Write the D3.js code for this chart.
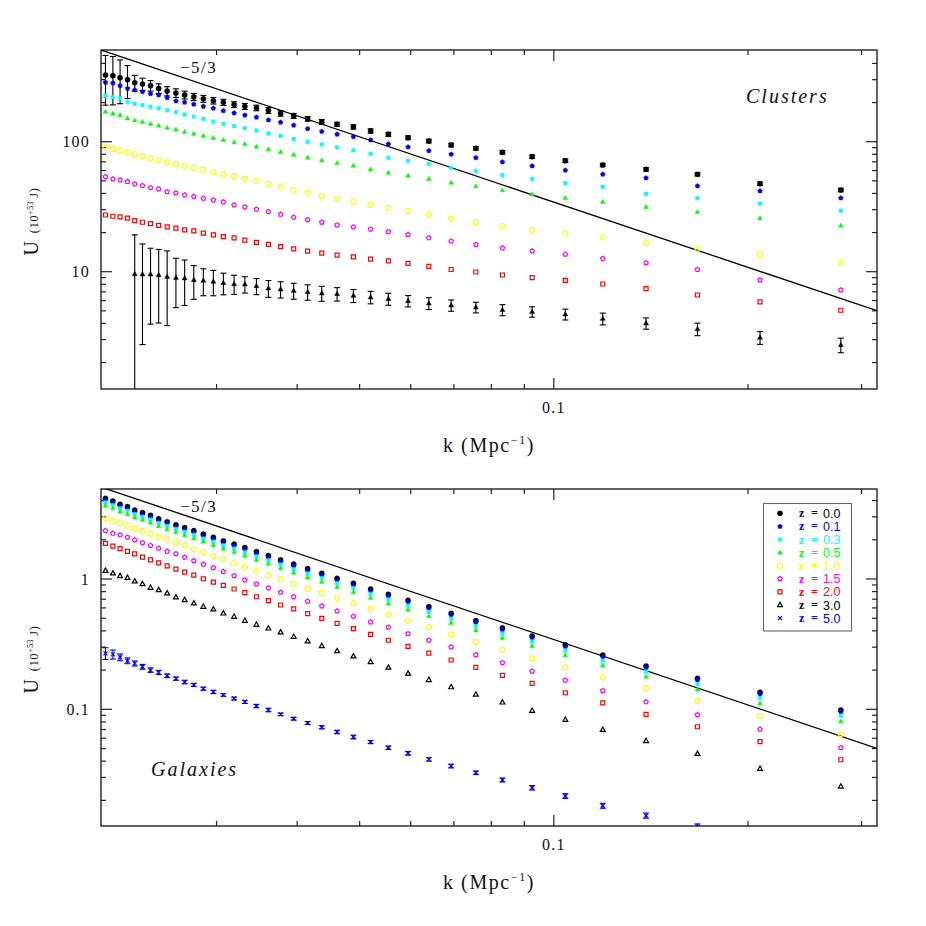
<!DOCTYPE html>
<html>
<head>
<meta charset="utf-8">
<script src="https://cdn.jsdelivr.net/npm/d3@7"></script>
<style>
    body { margin: 0; background: #fff; }
    svg { display: block; }
    text { font-family: "Liberation Serif", "Times New Roman", serif; fill: #111; }
</style>
</head>
<body>
<div id="viz-container"></div>
<script>
// wavenumbers of the 39 modes (Mpc^-1)
let kValues = [0.02018, 0.02072, 0.02126, 0.02183, 0.02240, 0.02303, 0.02370, 0.02440, 0.02515, 0.02595,
    0.02677, 0.02766, 0.02862, 0.02966, 0.03074, 0.03194, 0.03319, 0.03459, 0.03610, 0.03771,
    0.03951, 0.04153, 0.04368, 0.04613, 0.04890, 0.05200, 0.05540, 0.05943, 0.06401, 0.06932,
    0.07571, 0.08324, 0.09256, 0.1042, 0.1191, 0.1390, 0.1670, 0.2088, 0.2786];

let redshifts = ['0.0', '0.1', '0.3', '0.5', '1.0', '1.5', '2.0', '3.0', '5.0'];

// clusters panel, U in 10^53 J
let clustersZ00 = [326, 322, 311, 300, 284, 278, 270, 257, 245, 237, 229, 221, 214, 207, 201, 193, 187, 182, 174, 165, 158, 150, 142, 136, 130, 121, 114, 107.4, 101.2, 94.3, 88.9, 82.9, 76.7, 71.4, 66.2, 61.3, 56.1, 47.5, 42.5];
let clustersErrZ00 = [135, 130, 115, 85, 40, 30, 25, 22, 20, 18, 16, 14, 13, 12, 11, 10, 10, 9, 9, 8, 7, 6, 6, 5, 5, 4.5, 4, 3.6, 3.3, 3, 2.8, 2.6, 2.4, 2.2, 2, 1.8, 1.6, 1.4, 1.3];
let clustersZ01 = [286, 283, 270, 257, 250, 242, 234, 229, 218, 206, 201, 194, 187, 181, 173, 166, 160, 154, 147, 141, 134, 126, 120, 114, 109, 103, 96.0, 91.0, 85.3, 80.0, 75.3, 69.8, 65.0, 60.3, 56.1, 52.6, 45.6, 41.8, 36.9];
let clustersZ03 = [226, 220, 215, 202, 196, 191, 186, 181, 175, 169, 162, 156, 150, 143, 137, 132, 127, 122, 116, 111, 105, 99.5, 95.5, 90.6, 85.9, 80.8, 75.3, 71.4, 67.4, 63.1, 59.5, 55.4, 51.7, 48.1, 45.1, 39.8, 36.9, 33.4, 29.5];
let clustersZ05 = [170, 165, 160, 151, 146, 142, 137, 133, 128, 124, 119, 115, 111, 107, 103, 99, 96, 91.5, 87.4, 83.3, 79.4, 75.3, 71.9, 68.6, 65.4, 61.3, 57.7, 54.8, 51.7, 48.4, 45.4, 42.3, 39.4, 36.9, 34.4, 31.5, 28.8, 25.8, 22.6];
let clustersZ10 = [91.5, 87.9, 85.3, 82.9, 80.0, 77.6, 74.5, 72.3, 69.4, 67.4, 65.4, 63.1, 60.9, 58.5, 56.4, 54.2, 51.9, 49.9, 47.5, 45.1, 42.7, 40.5, 38.4, 36.2, 34.6, 32.6, 31.1, 29.3, 27.4, 25.6, 24.1, 22.5, 21.0, 19.7, 18.4, 16.6, 15.0, 13.6, 11.7];
let clustersZ15 = [53.8, 51.7, 50.7, 49.3, 47.3, 45.9, 44.3, 43.3, 41.2, 40.3, 38.9, 37.8, 36.7, 35.6, 34.4, 32.6, 31.5, 30.2, 28.9, 27.6, 26.2, 25.1, 24.0, 22.9, 22.1, 21.2, 20.3, 19.3, 18.2, 17.2, 16.2, 15.2, 14.4, 13.6, 12.6, 11.7, 10.4, 8.63, 7.23];
let clustersZ20 = [27.3, 26.7, 26.4, 25.8, 24.7, 24.0, 23.4, 22.7, 22.1, 21.6, 21.0, 20.6, 19.8, 19.2, 18.6, 18.2, 17.5, 16.8, 16.2, 15.6, 15.0, 14.4, 13.9, 13.4, 13.0, 12.5, 12.1, 11.6, 11.0, 10.4, 9.95, 9.43, 8.99, 8.58, 8.04, 7.40, 6.62, 5.85, 5.05];
let clustersZ30 = [null, null, null, null, 9.60, 9.55, 9.55, 9.43, 9.15, 8.99, 8.90, 8.63, 8.53, 8.38, 8.19, 8.04, 8.00, 7.76, 7.45, 7.32, 7.14, 6.98, 6.82, 6.74, 6.54, 6.36, 6.17, 5.95, 5.71, 5.51, 5.32, 5.08, 4.92, 4.70, 4.35, 4.01, 3.62, 3.11, 2.73];
let clustersErrZ30 = [null, null, null, null, 9.6, 6.8, 5.6, 5.4, 5.3, 3.7, 3.4, 2.5, 2.0, 1.85, 1.55, 1.35, 1.15, 1.1, 1.1, 1.05, 1.0, 0.95, 0.9, 0.8, 0.75, 0.7, 0.65, 0.6, 0.6, 0.55, 0.5, 0.5, 0.45, 0.45, 0.45, 0.4, 0.4, 0.35, 0.35];

// galaxies panel
let galaxiesZ00 = [4.16, 3.97, 3.74, 3.59, 3.38, 3.23, 3.08, 2.90, 2.75, 2.61, 2.48, 2.35, 2.21, 2.09, 1.96, 1.85, 1.74, 1.62, 1.51, 1.40, 1.30, 1.20, 1.106, 1.012, 0.927, 0.838, 0.763, 0.686, 0.613, 0.545, 0.479, 0.421, 0.365, 0.312, 0.261, 0.215, 0.173, 0.135, 0.0988];
let galaxiesZ01 = [4.04, 3.85, 3.63, 3.48, 3.28, 3.13, 2.99, 2.81, 2.67, 2.53, 2.41, 2.28, 2.14, 2.03, 1.90, 1.79, 1.69, 1.57, 1.46, 1.36, 1.26, 1.16, 1.07, 0.982, 0.899, 0.813, 0.740, 0.665, 0.595, 0.529, 0.465, 0.408, 0.354, 0.303, 0.253, 0.209, 0.168, 0.131, 0.0958];
let galaxiesZ03 = [3.87, 3.69, 3.48, 3.34, 3.14, 3.00, 2.86, 2.69, 2.55, 2.42, 2.30, 2.18, 2.04, 1.93, 1.81, 1.71, 1.60, 1.49, 1.39, 1.29, 1.19, 1.10, 1.015, 0.928, 0.849, 0.767, 0.697, 0.626, 0.559, 0.496, 0.435, 0.382, 0.331, 0.282, 0.236, 0.194, 0.156, 0.122, 0.0889];
let galaxiesZ05 = [3.66, 3.49, 3.29, 3.15, 2.97, 2.84, 2.70, 2.54, 2.41, 2.29, 2.17, 2.05, 1.93, 1.82, 1.71, 1.61, 1.51, 1.40, 1.31, 1.21, 1.12, 1.03, 0.951, 0.868, 0.793, 0.716, 0.649, 0.582, 0.519, 0.460, 0.403, 0.353, 0.305, 0.260, 0.217, 0.178, 0.142, 0.111, 0.081];
let galaxiesZ10 = [2.92, 2.79, 2.68, 2.56, 2.45, 2.35, 2.23, 2.11, 2.02, 1.90, 1.81, 1.69, 1.61, 1.50, 1.42, 1.32, 1.23, 1.15, 1.07, 0.995, 0.920, 0.848, 0.781, 0.715, 0.651, 0.592, 0.532, 0.479, 0.426, 0.376, 0.330, 0.287, 0.246, 0.210, 0.176, 0.145, 0.116, 0.0893, 0.0646];
let galaxiesZ15 = [2.35, 2.24, 2.18, 2.09, 1.99, 1.90, 1.81, 1.72, 1.63, 1.56, 1.47, 1.38, 1.30, 1.22, 1.14, 1.06, 0.982, 0.915, 0.853, 0.790, 0.731, 0.674, 0.621, 0.568, 0.517, 0.468, 0.426, 0.380, 0.339, 0.301, 0.262, 0.228, 0.196, 0.167, 0.139, 0.114, 0.0909, 0.0702, 0.0507];
let galaxiesZ20 = [1.88, 1.79, 1.71, 1.63, 1.56, 1.47, 1.40, 1.33, 1.26, 1.19, 1.13, 1.07, 1.005, 0.948, 0.895, 0.838, 0.785, 0.731, 0.682, 0.632, 0.589, 0.542, 0.499, 0.457, 0.416, 0.376, 0.339, 0.304, 0.270, 0.239, 0.210, 0.182, 0.158, 0.134, 0.112, 0.0915, 0.0735, 0.0564, 0.0410];
let galaxiesZ30 = [1.158, 1.106, 1.054, 1.023, 0.960, 0.915, 0.858, 0.823, 0.777, 0.724, 0.690, 0.651, 0.613, 0.585, 0.545, 0.514, 0.479, 0.446, 0.418, 0.390, 0.361, 0.333, 0.306, 0.280, 0.255, 0.231, 0.209, 0.188, 0.168, 0.148, 0.130, 0.113, 0.0976, 0.0832, 0.0697, 0.0571, 0.0456, 0.0350, 0.0256];
let galaxiesZ50 = [0.269, 0.264, 0.251, 0.236, 0.225, 0.212, 0.200, 0.192, 0.181, 0.172, 0.162, 0.154, 0.144, 0.136, 0.129, 0.121, 0.114, 0.106, 0.0988, 0.0915, 0.0847, 0.0785, 0.0728, 0.0670, 0.0613, 0.0561, 0.0507, 0.0460, 0.0413, 0.0367, 0.0326, 0.0287, 0.0250, 0.0216, 0.0182, 0.0153, 0.0126, null, null];
let galaxiesErrZ50 = [0.028, 0.021, 0.015, 0.012, 0.010, 0.009, 0.008, 0.007, 0.006, 0.005, 0.005, 0.004, 0.004, 0.004, 0.003, 0.003, 0.003, 0.003, 0.003, 0.002, 0.002, 0.002, 0.002, 0.002, 0.002, 0.0015, 0.0015, 0.0015, 0.0013, 0.0012, 0.001, 0.001, 0.001, 0.0009, 0.0008, 0.0007, 0.0006, null, null];

// amplitude of the k^-5/3 guide line in each panel
let slopeAmp = [0.739, 0.00739];

let colors = ['#000000', '#0000ff', '#00ffff', '#00ff00', '#ffff00', '#ff00ff', '#ff0000', '#000000', '#0000ff'];
let symbols = ['circle', 'pentagon', 'square', 'triangle', 'ocircle', 'opentagon', 'osquare', 'otriangle', 'cross'];

let viz = d3.select('#viz-container')
    .append('svg')
    .attr('id', 'viz')
    .attr('width', 926)
    .attr('height', 926);

let xLeft = 101, xRight = 877;
let x = d3.scaleLog().domain([0.01986, 0.3170]).range([xLeft, xRight]);

function markerPath(type) {
    switch (type) {
        case 'circle': return circlePath(2.6);
        case 'ocircle': return circlePath(2.6);
        case 'pentagon': return pentaPath(2.5);
        case 'opentagon': return pentaPath(2.3);
        case 'square': return squarePath(1.8);
        case 'osquare': return squarePath(2.0);
        case 'triangle': return triPath(2.6);
        case 'otriangle': return triPath(2.7);
        case 'ftriangle': return triPath(2.8);
        case 'cross': return 'M-2,-2L2,2M-2,2L2,-2';
    }
}
function circlePath(r) {
    return `M${r},0A${r},${r} 0 1,1 ${-r},0A${r},${r} 0 1,1 ${r},0Z`;
}
function squarePath(h) {
    return `M${-h},${-h}H${h}V${h}H${-h}Z`;
}
function triPath(r) {
    return `M0,${-r}L${r * 0.9},${r * 0.6}L${-r * 0.9},${r * 0.6}Z`;
}
function pentaPath(r) {
    let pts = d3.range(5).map(i => {
        let a = -Math.PI / 2 + i * 2 * Math.PI / 5;
        return [r * Math.cos(a), r * Math.sin(a)];
    });
    return 'M' + pts.map(p => p[0].toFixed(2) + ',' + p[1].toFixed(2)).join('L') + 'Z';
}
function isOpen(type) {
    return type[0] == 'o' || type == 'cross';
}

function drawPanel(p) {
    let y = d3.scaleLog().domain(p.yDomain).range([p.bottom, p.top]);
    let g = viz.append('g');
    let clipId = 'clip' + p.id;

    g.append('clipPath').attr('id', clipId)
        .append('rect')
        .attr('x', xLeft).attr('y', p.top)
        .attr('width', xRight - xLeft).attr('height', p.bottom - p.top);

    // ticks: major at decades, minor in between, on all four sides
    let xt = x.ticks().filter(d => x(d) > xLeft + 3 && x(d) < xRight - 3);
    let yt = y.ticks().filter(d => y(d) > p.top + 2 && y(d) < p.bottom - 2);
    let isMajor = d => Math.abs(Math.log10(d) - Math.round(Math.log10(d))) < 1e-6;
    let fmt = d => isMajor(d) ? d3.format('~g')(d) : '';
    let tickLen = d => isMajor(d) ? 11 : 5;

    g.selectAll('.xtick').data(xt).enter().append('line')
        .attr('x1', d => x(d)).attr('x2', d => x(d))
        .attr('y1', p.bottom).attr('y2', d => p.bottom - tickLen(d));
    g.selectAll('.xtickTop').data(xt).enter().append('line')
        .attr('x1', d => x(d)).attr('x2', d => x(d))
        .attr('y1', p.top).attr('y2', d => p.top + tickLen(d));
    g.selectAll('.ytick').data(yt).enter().append('line')
        .attr('x1', xLeft).attr('x2', d => xLeft + tickLen(d))
        .attr('y1', d => y(d)).attr('y2', d => y(d));
    g.selectAll('.ytickRight').data(yt).enter().append('line')
        .attr('x1', xRight).attr('x2', d => xRight - tickLen(d))
        .attr('y1', d => y(d)).attr('y2', d => y(d));
    g.selectAll('line').attr('stroke', '#222').attr('stroke-width', 1.2);

    g.append('rect')
        .attr('x', xLeft).attr('y', p.top)
        .attr('width', xRight - xLeft).attr('height', p.bottom - p.top)
        .attr('fill', 'none').attr('stroke', '#222').attr('stroke-width', 1.4);

    g.selectAll('.xlab').data(xt.filter(isMajor)).enter().append('text')
        .attr('x', d => x(d)).attr('y', p.bottom + 23.5)
        .attr('text-anchor', 'middle')
        .attr('font-size', 16).attr('letter-spacing', 1.2)
        .text(fmt);
    g.selectAll('.ylab').data(yt.filter(isMajor)).enter().append('text')
        .attr('x', xLeft - 11).attr('y', d => y(d) + 5.5)
        .attr('text-anchor', 'end')
        .attr('font-size', 16).attr('letter-spacing', 1.2)
        .text(fmt);

    // axis titles
    let xt1 = g.append('text')
        .attr('x', (xLeft + xRight) / 2).attr('y', p.bottom + 62.5)
        .attr('text-anchor', 'middle')
        .attr('font-size', 20).attr('letter-spacing', 1.6);
    xt1.append('tspan').text('k (Mpc');
    xt1.append('tspan').attr('font-size', 12).attr('dy', -8).text('\u22121');
    xt1.append('tspan').attr('dy', 8).text(')');

    let ymid = (p.top + p.bottom) / 2 + 2;
    let yt1 = g.append('g')
        .attr('transform', `translate(38,${ymid}) rotate(-90)`)
        .append('text')
        .attr('x', 0).attr('y', 0)
        .attr('text-anchor', 'middle');
    yt1.append('tspan').attr('font-size', 20).text('U');
    yt1.append('tspan').attr('font-size', 12).attr('dx', 8).attr('letter-spacing', 0.8).text('(10');
    yt1.append('tspan').attr('font-size', 8.5).attr('dy', -5).text('+53');
    yt1.append('tspan').attr('font-size', 12).attr('dy', 5).attr('letter-spacing', 0.8).text(' J)');

    let plot = g.append('g').attr('clip-path', `url(#${clipId})`);

    // -5/3 guide line
    let line = d3.line().x(d => x(d)).y(d => y(slopeAmp[p.id] * Math.pow(d, -5 / 3)));
    plot.append('path')
        .attr('d', line(x.domain()))
        .attr('fill', 'none').attr('stroke', '#000').attr('stroke-width', 1.3);

    p.series.forEach((s, si) => {
        let pts = kValues.map((k, i) => ({ k: k, u: s.values[i], err: s.errors ? s.errors[i] : null }))
            .filter(d => d.u != null);
        let col = colors[s.z];

        // error bars first
        if (s.errors) {
            let eb = plot.append('g').attr('stroke', s.z == 8 ? col : '#000').attr('stroke-width', 1.1);
            pts.filter(d => d.err != null).forEach(d => {
                let cx = x(d.k);
                let lo = d.u - d.err > p.yDomain[0] ? y(d.u - d.err) : p.bottom + 5;
                let hi = y(d.u + d.err);
                eb.append('line').attr('x1', cx).attr('x2', cx).attr('y1', lo).attr('y2', hi);
                eb.append('line').attr('x1', cx - 3).attr('x2', cx + 3).attr('y1', hi).attr('y2', hi);
                if (lo < p.bottom) {
                    eb.append('line').attr('x1', cx - 3).attr('x2', cx + 3).attr('y1', lo).attr('y2', lo);
                }
            });
        }

        let sym = s.symbol || symbols[s.z];
        plot.selectAll('.m' + si).data(pts).enter()
            .append('path')
            .attr('transform', d => `translate(${x(d.k)},${y(d.u)})`)
            .attr('d', markerPath(sym))
            .attr('fill', isOpen(sym) ? 'none' : col)
            .attr('stroke', col)
            .attr('stroke-width', isOpen(sym) ? 1.2 : 0.4);
    });

    g.append('text')
        .attr('x', 180).attr('y', p.top + 23)
        .attr('font-size', 17).attr('letter-spacing', 1.5)
        .text('\u22125/3');

    g.append('text')
        .attr('x', p.labelX).attr('y', p.labelY)
        .attr('font-size', 20).attr('font-style', 'italic').attr('letter-spacing', 2)
        .text(p.name);
}

drawPanel({
    id: 0, name: 'Clusters', top: 50, bottom: 389, yDomain: [1.252, 507.5],
    labelX: 746, labelY: 103,
    series: [
        { z: 0, values: clustersZ00, errors: clustersErrZ00 },
        { z: 1, values: clustersZ01 },
        { z: 2, values: clustersZ03 },
        { z: 3, values: clustersZ05 },
        { z: 4, values: clustersZ10 },
        { z: 5, values: clustersZ15 },
        { z: 6, values: clustersZ20 },
        { z: 7, values: clustersZ30, errors: clustersErrZ30, symbol: 'ftriangle' }
    ]
});

drawPanel({
    id: 1, name: 'Galaxies', top: 489, bottom: 826, yDomain: [0.01272, 4.907],
    labelX: 151, labelY: 776,
    series: [
        { z: 0, values: galaxiesZ00 },
        { z: 1, values: galaxiesZ01 },
        { z: 2, values: galaxiesZ03 },
        { z: 3, values: galaxiesZ05 },
        { z: 4, values: galaxiesZ10 },
        { z: 5, values: galaxiesZ15 },
        { z: 6, values: galaxiesZ20 },
        { z: 7, values: galaxiesZ30 },
        { z: 8, values: galaxiesZ50, errors: galaxiesErrZ50 }
    ]
});

// legend in the galaxies panel
let legend = viz.append('g');
legend.append('rect')
    .attr('x', 763.5).attr('y', 503.5).attr('width', 88).attr('height', 127.5)
    .attr('fill', '#fff').attr('stroke', '#666').attr('stroke-width', 1.1);
let rows = legend.selectAll('.row').data(redshifts).enter()
    .append('g')
    .attr('transform', (d, i) => `translate(0, ${513.3 + i * 13.1})`);
rows.append('path')
    .attr('transform', 'translate(780,0)')
    .attr('d', (d, i) => markerPath(symbols[i]))
    .attr('fill', (d, i) => isOpen(symbols[i]) ? 'none' : colors[i])
    .attr('stroke', (d, i) => colors[i])
    .attr('stroke-width', (d, i) => isOpen(symbols[i]) ? 1.2 : 0.4);
rows.append('text')
    .attr('x', 799).attr('y', 4)
    .attr('font-size', 12).attr('font-weight', 'bold')
    .style('fill', (d, i) => colors[i])
    .text('z');
rows.append('text')
    .attr('x', 811).attr('y', 4)
    .attr('font-size', 12).attr('font-weight', 'bold')
    .style('fill', (d, i) => colors[i])
    .text('=');
rows.append('text')
    .attr('x', 823).attr('y', 4.5)
    .attr('font-size', 12.5)
    .style('font-family', '"Liberation Sans", Arial, sans-serif')
    .style('fill', (d, i) => colors[i])
    .text(d => d);
</script>
</body>
</html>
